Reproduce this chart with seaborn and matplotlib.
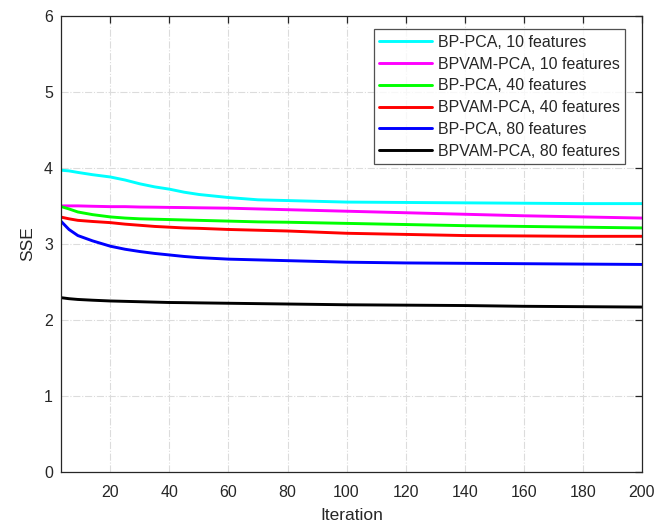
import numpy as np
import pandas as pd
import matplotlib
matplotlib.use("Agg")
import matplotlib.pyplot as plt
import seaborn as sns

# Sampled iterations and SSE values for each model configuration
iterations = [3, 6, 9, 14, 20, 25, 30, 35, 40, 45, 50, 60, 70, 80, 100, 120, 140, 160, 180, 200]

bp_pca_10 = [3.97, 3.96, 3.94, 3.91, 3.88, 3.84, 3.79, 3.75, 3.72, 3.68, 3.65, 3.61, 3.58,
             3.57, 3.55, 3.545, 3.54, 3.535, 3.53, 3.53]
bpvam_pca_10 = [3.50, 3.50, 3.50, 3.495, 3.49, 3.49, 3.485, 3.483, 3.48, 3.478, 3.475, 3.47,
                3.46, 3.45, 3.43, 3.41, 3.39, 3.37, 3.355, 3.34]
bp_pca_40 = [3.495, 3.46, 3.42, 3.385, 3.355, 3.34, 3.33, 3.325, 3.32, 3.315, 3.31, 3.30,
             3.29, 3.285, 3.27, 3.255, 3.24, 3.23, 3.22, 3.21]
bpvam_pca_40 = [3.355, 3.33, 3.31, 3.295, 3.28, 3.26, 3.245, 3.23, 3.22, 3.21, 3.205, 3.19,
                3.18, 3.17, 3.14, 3.125, 3.11, 3.105, 3.10, 3.10]
bp_pca_80 = [3.31, 3.19, 3.11, 3.04, 2.97, 2.93, 2.90, 2.875, 2.855, 2.835, 2.82, 2.80,
             2.79, 2.78, 2.76, 2.75, 2.745, 2.74, 2.735, 2.73]
bpvam_pca_80 = [2.295, 2.28, 2.27, 2.26, 2.25, 2.245, 2.24, 2.235, 2.23, 2.228, 2.225, 2.22,
                2.215, 2.21, 2.20, 2.195, 2.19, 2.18, 2.175, 2.17]

series_names = ["BP-PCA, 10 features", "BPVAM-PCA, 10 features",
                "BP-PCA, 40 features", "BPVAM-PCA, 40 features",
                "BP-PCA, 80 features", "BPVAM-PCA, 80 features"]
series_values = [bp_pca_10, bpvam_pca_10, bp_pca_40, bpvam_pca_40, bp_pca_80, bpvam_pca_80]
colors = ["#00FFFF", "#FF00FF", "#00FF00", "#FF0000", "#0000FF", "#000000"]

x_ticks = [20, 40, 60, 80, 100, 120, 140, 160, 180, 200]
y_ticks = [0, 1, 2, 3, 4, 5, 6]

df = pd.concat(
    [pd.DataFrame({"Iteration": iterations, "SSE": vals, "Series": name})
     for name, vals in zip(series_names, series_values)],
    ignore_index=True,
)

sns.set_style("white")
plt.rcParams["font.family"] = ["Liberation Sans", "DejaVu Sans"]
dark = "#262626"

fig = plt.figure(figsize=(6.7, 5.24), dpi=100)
ax = fig.add_axes([0.0915, 0.099, 0.8665, 0.871])

sns.lineplot(data=df, x="Iteration", y="SSE", hue="Series", hue_order=series_names,
             palette=colors, linewidth=2.1, ax=ax, legend=False, sort=False)

ax.set_xlim(3.4, 200)
ax.set_ylim(0, 6)
ax.set_xticks(x_ticks)
ax.set_yticks(y_ticks)
ax.grid(True, linestyle="-.", color="#dcdcdc", linewidth=0.8)
ax.set_axisbelow(True)

for s in ax.spines.values():
    s.set_visible(True)
    s.set_color(dark)
    s.set_linewidth(0.9)

ax.tick_params(axis="both", which="both", direction="in", top=True, right=True,
               length=5, width=0.9, colors=dark, labelsize=11.5, labelcolor=dark)
ax.tick_params(axis="x", pad=9)
ax.tick_params(axis="y", pad=6)

ax.set_xlabel("Iteration", fontsize=12.5, color=dark, labelpad=6)
ax.set_ylabel("SSE", fontsize=12.5, color=dark, labelpad=6)

handles = ax.get_lines()[:len(series_names)]
leg = ax.legend(handles, series_names, loc="upper right", bbox_to_anchor=(0.9715, 0.97),
                fontsize=11.5, frameon=True, fancybox=False, handlelength=3.3,
                handletextpad=0.35, labelspacing=0.42, borderpad=0.35, borderaxespad=0.0)
leg.get_frame().set_edgecolor(dark)
leg.get_frame().set_linewidth(0.9)
for t in leg.get_texts():
    t.set_color(dark)

fig.savefig("out.png", dpi=100)
